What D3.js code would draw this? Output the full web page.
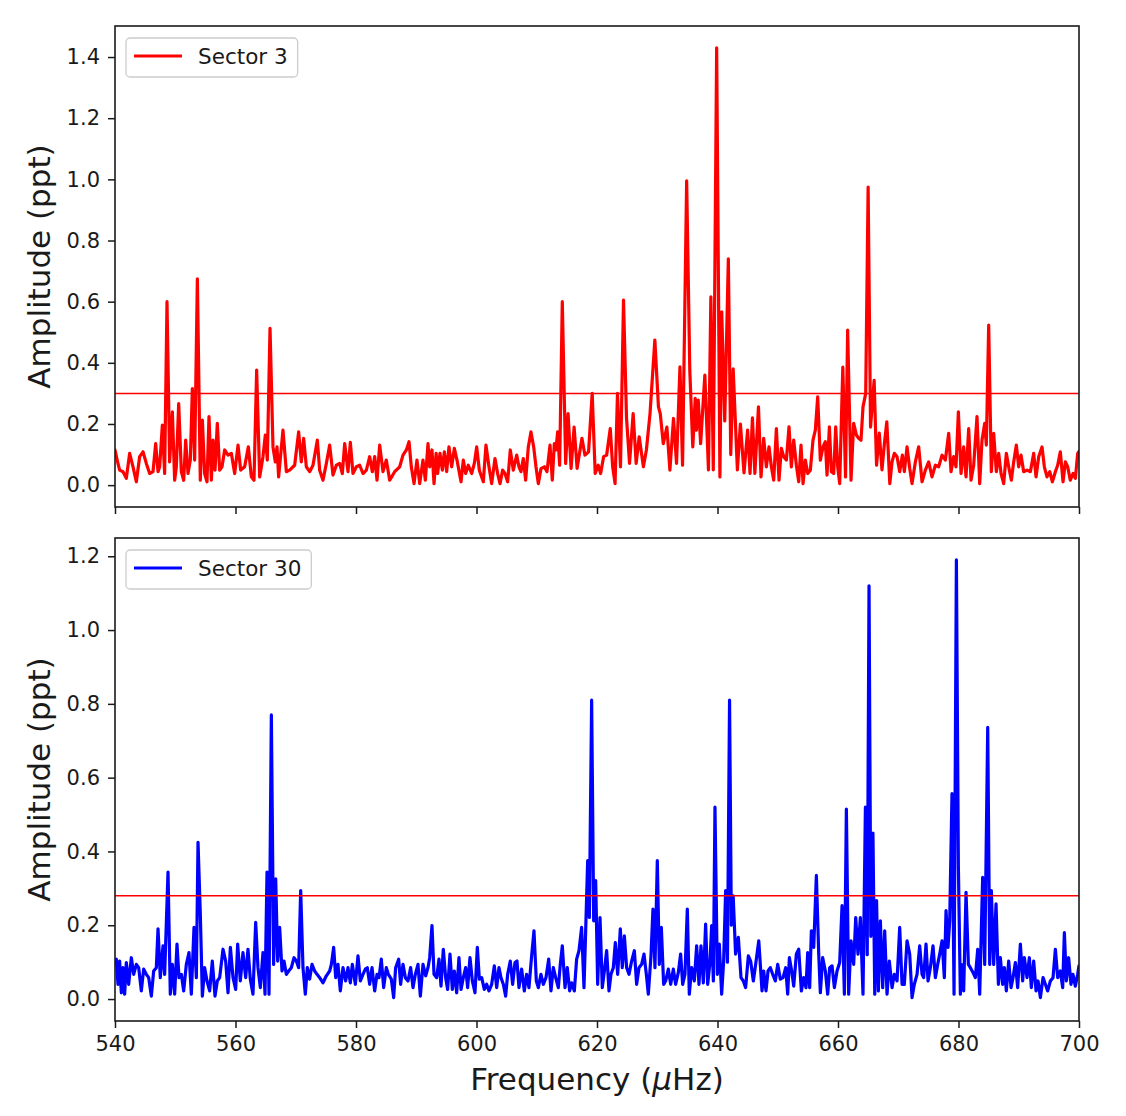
<!DOCTYPE html>
<html>
<head>
<meta charset="utf-8">
<script src="https://cdn.jsdelivr.net/npm/d3@7"></script>
<style>
  html, body { margin: 0; padding: 0; background: #fff; }
  text { font-family: "DejaVu Sans", sans-serif; }
</style>
</head>
<body>
<svg id="chart" width="1126" height="1116"></svg>
<script>
// ---------------- DATA ----------------
const xTicks = [540, 560, 580, 600, 620, 640, 660, 680, 700];
const yTicks3 = [0.0, 0.2, 0.4, 0.6, 0.8, 1.0, 1.2, 1.4];
const yTicks30 = [0.0, 0.2, 0.4, 0.6, 0.8, 1.0, 1.2];
const threshold3 = 0.30;
const threshold30 = 0.28;
const seriesNames = ["Sector 3", "Sector 30"];

// Sector 3 amplitude spectrum: [frequency (µHz), amplitude (ppt)]
const sector3 = [
[540.0,0.115],[540.5,0.07],[540.77,0.049],[541.33,0.044],[541.88,0.022],[542.43,0.104],[542.99,0.060],[543.54,0.011],
[544.09,0.093],[544.65,0.109],[545.2,0.071],[545.75,0.038],[546.31,0.044],[546.75,0.136],[547.14,0.044],[547.41,0.060],
[547.86,0.196],[548.24,0.038],[548.63,0.600],[549.07,0.076],[549.52,0.240],[549.9,0.016],[550.18,0.060],[550.57,0.267],
[551.01,0.044],[551.4,0.016],[551.73,0.147],[552.12,0.038],[552.5,0.082],[552.84,0.316],[553.22,0.082],[553.67,0.675],
[554.16,0.016],[554.5,0.213],[554.88,0.038],[555.27,0.011],[555.6,0.224],[555.99,0.016],[556.27,0.147],[556.6,0.049],
[556.98,0.202],[557.37,0.049],[557.76,0.060],[558.2,0.115],[558.76,0.098],[559.31,0.104],[559.86,0.038],[560.42,0.131],
[560.86,0.049],[561.52,0.060],[562.13,0.125],[562.63,0.027],[563.07,0.016],[563.51,0.376],[564.01,0.027],[564.56,0.093],
[564.95,0.164],[565.28,0.082],[565.73,0.513],[566.22,0.125],[566.61,0.076],[566.89,0.125],[567.16,0.027],[567.88,0.180],
[568.44,0.044],[568.99,0.049],[569.82,0.065],[570.48,0.174],[570.92,0.076],[571.31,0.153],[571.76,0.060],[572.31,0.044],
[572.86,0.065],[573.58,0.147],[573.97,0.049],[574.52,0.016],[575.08,0.071],[575.63,0.131],[576.18,0.033],[576.74,0.065],
[577.29,0.071],[577.73,0.038],[578.12,0.136],[578.67,0.044],[579.06,0.140],[579.5,0.038],[580.06,0.060],[580.61,0.065],
[581.16,0.038],[581.72,0.049],[582.27,0.093],[582.71,0.044],[583.1,0.093],[583.49,0.016],[583.93,0.131],[584.48,0.044],
[585.03,0.082],[585.59,0.016],[586.42,0.044],[587.25,0.060],[587.8,0.098],[588.36,0.115],[588.8,0.142],[589.18,0.060],
[589.63,0.005],[590.12,0.082],[590.57,0.005],[591.12,0.082],[591.51,0.016],[591.95,0.136],[592.23,0.060],[592.61,0.115],
[592.95,0.005],[593.3,0.104],[593.55,0.038],[593.94,0.104],[594.33,0.049],[594.66,0.109],[595.05,0.044],[595.43,0.125],
[595.88,0.060],[596.32,0.120],[596.76,0.082],[597.43,0.011],[597.81,0.082],[598.2,0.038],[598.64,0.065],[599.2,0.038],
[599.64,0.071],[600.03,0.125],[600.47,0.049],[601.13,0.011],[601.57,0.131],[602.07,0.060],[602.52,0.005],[603.07,0.087],
[603.51,0.038],[603.9,0.005],[604.34,0.049],[604.73,0.038],[605.17,0.011],[605.61,0.115],[606.11,0.049],[606.67,0.098],
[607.05,0.060],[607.38,0.044],[607.77,0.087],[608.16,0.016],[608.6,0.125],[609.04,0.174],[609.49,0.125],[609.87,0.060],
[610.26,0.005],[610.7,0.054],[611.26,0.060],[611.7,0.044],[612.2,0.131],[612.58,0.016],[612.92,0.136],[613.19,0.115],
[613.47,0.174],[613.8,0.065],[614.24,0.600],[614.8,0.071],[615.2,0.234],[615.7,0.055],[616.2,0.190],[616.7,0.055],
[617.5,0.153],[618.0,0.098],[618.6,0.109],[619.2,0.300],[619.7,0.038],[620.2,0.065],[620.6,0.038],[621.1,0.093],
[621.6,0.098],[622.2,0.185],[622.6,0.060],[623.0,0.005],[623.4,0.300],[623.9,0.060],[624.4,0.605],[624.9,0.220],
[625.4,0.071],[626.0,0.234],[626.5,0.071],[627.0,0.158],[627.7,0.060],[628.2,0.115],[628.8,0.234],[629.6,0.474],
[630.2,0.256],[630.5,0.234],[631.0,0.136],[631.6,0.190],[632.1,0.049],[632.7,0.218],[633.2,0.071],[633.77,0.387],
[634.2,0.065],[634.88,0.995],[635.4,0.376],[635.9,0.125],[636.3,0.284],[636.5,0.180],[636.8,0.278],[637.2,0.136],
[637.9,0.360],[638.5,0.050],[638.9,0.616],[639.3,0.050],[639.86,1.430],[640.4,0.027],[640.7,0.567],[641.2,0.210],
[641.8,0.740],[642.2,0.100],[642.6,0.380],[643.3,0.050],[643.8,0.200],[644.4,0.040],[645.0,0.180],[645.4,0.038],
[645.8,0.220],[646.2,0.038],[646.8,0.256],[647.22,0.027],[647.67,0.153],[648.11,0.060],[648.55,0.125],[648.94,0.060],
[649.33,0.016],[649.77,0.185],[650.21,0.016],[650.6,0.120],[650.99,0.093],[651.43,0.082],[651.87,0.191],[652.26,0.060],
[652.65,0.147],[653.09,0.065],[653.48,0.011],[653.86,0.131],[654.2,0.005],[654.58,0.082],[654.97,0.038],[655.41,0.049],
[655.85,0.147],[656.24,0.180],[656.63,0.289],[657.07,0.082],[657.51,0.125],[657.9,0.142],[658.18,0.033],[658.57,0.191],
[658.9,0.044],[659.29,0.038],[659.62,0.191],[659.95,0.060],[660.28,0.005],[660.8,0.386],[661.25,0.027],[661.6,0.507],
[662.16,0.016],[662.6,0.202],[663.05,0.164],[663.43,0.153],[663.82,0.147],[664.15,0.256],[664.6,0.300],[665.0,0.975],
[665.4,0.190],[666.0,0.343],[666.4,0.065],[666.85,0.170],[667.3,0.050],[667.7,0.136],[668.1,0.207],[668.6,0.005],
[668.97,0.076],[669.35,0.104],[669.8,0.093],[670.24,0.044],[670.68,0.098],[671.01,0.044],[671.46,0.125],[671.9,0.055],
[672.29,0.005],[672.84,0.076],[673.39,0.125],[673.95,0.011],[674.5,0.049],[675.05,0.076],[675.6,0.027],[676.16,0.065],
[676.71,0.060],[677.27,0.098],[677.82,0.082],[678.37,0.169],[678.76,0.044],[679.2,0.093],[679.59,0.060],[679.98,0.240],
[680.42,0.038],[680.86,0.125],[681.25,0.027],[681.69,0.185],[682.08,0.016],[682.52,0.065],[683.07,0.224],[683.52,0.005],
[683.9,0.147],[684.35,0.202],[684.62,0.131],[685.01,0.523],[685.45,0.044],[685.84,0.169],[686.28,0.044],[686.67,0.104],
[687.06,0.038],[687.5,0.005],[687.94,0.104],[688.33,0.060],[688.77,0.016],[689.16,0.076],[689.6,0.131],[689.99,0.060],
[690.38,0.098],[690.82,0.044],[691.37,0.049],[691.93,0.044],[692.48,0.104],[692.87,0.027],[693.31,0.093],[693.86,0.125],
[694.25,0.060],[694.69,0.027],[695.14,0.044],[695.58,0.011],[696.08,0.044],[696.46,0.065],[696.9,0.109],[697.35,0.011],
[697.74,0.076],[698.12,0.060],[698.56,0.016],[699.01,0.038],[699.4,0.022],[699.78,0.104],[700.0,0.110]
];

// Sector 30 amplitude spectrum: [frequency (µHz), amplitude (ppt)]
const sector30 = [
[540.0,0.100],[540.22,0.108],[540.5,0.040],[540.77,0.103],[541.05,0.017],[541.33,0.085],[541.6,0.013],[541.88,0.099],
[542.27,0.040],[542.71,0.112],[543.1,0.067],[543.54,0.094],[543.93,0.085],[544.37,0.022],[544.76,0.081],[545.2,0.067],
[545.59,0.058],[546.03,0.008],[546.42,0.076],[546.86,0.085],[547.14,0.190],[547.52,0.058],[547.97,0.144],[548.24,0.067],
[548.8,0.344],[549.18,0.013],[549.52,0.094],[549.9,0.013],[550.29,0.149],[550.62,0.058],[551.01,0.067],[551.4,0.022],
[551.84,0.094],[552.28,0.126],[552.67,0.013],[553.11,0.194],[553.5,0.058],[553.78,0.425],[554.16,0.230],[554.5,0.008],
[554.88,0.085],[555.27,0.049],[555.71,0.022],[556.15,0.103],[556.6,0.008],[556.98,0.049],[557.37,0.058],[557.93,0.135],
[558.37,0.103],[558.76,0.017],[559.15,0.140],[559.59,0.058],[560.03,0.026],[560.36,0.149],[560.8,0.049],[561.24,0.126],
[561.69,0.058],[562.07,0.135],[562.46,0.054],[562.9,0.013],[563.35,0.208],[563.73,0.085],[564.12,0.031],[564.56,0.126],
[564.9,0.013],[565.23,0.344],[565.56,0.013],[565.95,0.770],[566.33,0.094],[566.67,0.326],[567.0,0.103],[567.33,0.194],
[567.72,0.076],[568.05,0.103],[568.44,0.067],[568.82,0.076],[569.27,0.085],[569.71,0.112],[570.1,0.103],[570.48,0.085],
[570.82,0.294],[571.2,0.085],[571.59,0.013],[571.92,0.085],[572.31,0.054],[572.7,0.094],[573.14,0.076],[573.53,0.067],
[573.97,0.058],[574.52,0.044],[575.08,0.063],[575.63,0.076],[575.91,0.094],[576.29,0.140],[576.63,0.058],[577.01,0.094],
[577.4,0.022],[577.84,0.085],[578.28,0.049],[578.67,0.085],[579.06,0.044],[579.39,0.094],[579.89,0.040],[580.33,0.117],
[580.72,0.049],[581.16,0.067],[581.55,0.081],[581.88,0.085],[582.27,0.040],[582.66,0.085],[583.1,0.022],[583.49,0.067],
[583.82,0.058],[584.2,0.108],[584.59,0.031],[585.03,0.085],[585.37,0.067],[585.86,0.054],[586.25,0.004],[586.58,0.085],
[587.08,0.108],[587.41,0.040],[587.8,0.094],[588.19,0.058],[588.63,0.049],[589.07,0.085],[589.46,0.031],[589.85,0.067],
[590.29,0.094],[590.68,0.008],[591.12,0.094],[591.57,0.063],[591.95,0.085],[592.23,0.112],[592.61,0.199],[592.95,0.067],
[593.39,0.058],[593.77,0.108],[594.11,0.035],[594.49,0.135],[594.88,0.058],[595.21,0.026],[595.6,0.122],[595.99,0.026],
[596.32,0.076],[596.71,0.017],[597.09,0.112],[597.43,0.026],[597.81,0.058],[598.2,0.085],[598.53,0.031],[598.92,0.112],
[599.31,0.049],[599.75,0.017],[600.14,0.140],[600.47,0.054],[600.86,0.058],[601.3,0.026],[601.69,0.040],[602.07,0.022],
[602.52,0.040],[602.96,0.090],[603.35,0.031],[603.73,0.085],[604.06,0.058],[604.45,0.040],[604.84,0.008],[605.17,0.067],
[605.61,0.103],[606.0,0.040],[606.39,0.099],[606.72,0.103],[607.05,0.031],[607.49,0.081],[607.94,0.022],[608.32,0.067],
[608.71,0.031],[609.15,0.117],[609.54,0.185],[609.93,0.049],[610.26,0.031],[610.7,0.067],[611.09,0.040],[611.53,0.058],
[611.98,0.108],[612.36,0.022],[612.75,0.085],[613.14,0.058],[613.58,0.031],[613.91,0.094],[614.24,0.144],[614.69,0.031],
[615.07,0.085],[615.46,0.022],[615.79,0.044],[616.24,0.022],[616.62,0.108],[617.01,0.131],[617.45,0.194],[617.84,0.031],
[618.12,0.185],[618.45,0.375],[618.73,0.221],[619.11,0.810],[619.45,0.212],[619.78,0.321],[620.11,0.040],[620.5,0.221],
[620.88,0.031],[621.22,0.076],[621.6,0.131],[621.99,0.022],[622.32,0.067],[622.71,0.085],[623.04,0.153],[623.43,0.067],
[623.87,0.190],[624.2,0.085],[624.54,0.171],[624.92,0.085],[625.31,0.067],[625.75,0.103],[626.2,0.131],[626.58,0.040],
[626.97,0.085],[627.41,0.094],[627.8,0.122],[628.19,0.067],[628.52,0.013],[628.96,0.117],[629.29,0.244],[629.62,0.085],
[630.01,0.375],[630.34,0.094],[630.68,0.194],[631.06,0.040],[631.4,0.049],[631.84,0.081],[632.23,0.040],[632.67,0.081],
[633.05,0.040],[633.5,0.072],[633.88,0.122],[634.22,0.040],[634.6,0.067],[634.99,0.244],[635.32,0.013],[635.71,0.085],
[636.15,0.049],[636.54,0.144],[636.93,0.040],[637.26,0.144],[637.65,0.044],[638.03,0.203],[638.37,0.040],[638.75,0.099],
[639.03,0.199],[639.31,0.049],[639.58,0.520],[639.97,0.067],[640.3,0.149],[640.69,0.013],[641.02,0.103],[641.35,0.294],
[641.65,0.100],[642.0,0.810],[642.3,0.200],[642.6,0.280],[643.0,0.122],[643.46,0.167],[643.9,0.058],[644.29,0.049],
[644.67,0.031],[645.12,0.117],[645.5,0.103],[645.95,0.049],[646.33,0.094],[646.85,0.158],[647.39,0.022],[647.67,0.076],
[648.05,0.022],[648.39,0.076],[648.77,0.085],[649.16,0.067],[649.6,0.049],[649.99,0.094],[650.43,0.054],[650.88,0.058],
[651.32,0.085],[651.65,0.013],[651.93,0.112],[652.31,0.076],[652.65,0.035],[653.09,0.122],[653.48,0.135],[653.92,0.022],
[654.31,0.058],[654.69,0.031],[654.97,0.126],[655.3,0.031],[655.58,0.185],[655.97,0.140],[656.41,0.335],[656.8,0.122],
[657.07,0.017],[657.46,0.112],[657.9,0.076],[658.29,0.013],[658.62,0.085],[659.01,0.090],[659.4,0.031],[659.84,0.076],
[660.28,0.099],[660.67,0.253],[661.06,0.013],[661.39,0.515],[661.77,0.013],[662.16,0.158],[662.6,0.094],[662.94,0.221],
[663.32,0.122],[663.71,0.221],[664.15,0.013],[664.55,0.520],[664.85,0.120],[665.15,1.120],[665.45,0.170],[665.8,0.450],
[666.1,0.013],[666.4,0.267],[666.7,0.022],[667.03,0.212],[667.42,0.031],[667.75,0.185],[668.14,0.013],[668.52,0.103],
[668.97,0.031],[669.35,0.067],[669.8,0.049],[670.24,0.194],[670.63,0.040],[671.01,0.040],[671.46,0.158],[671.9,0.122],
[672.29,0.004],[672.67,0.040],[673.12,0.067],[673.56,0.144],[673.95,0.067],[674.22,0.058],[674.61,0.149],[674.94,0.049],
[675.33,0.085],[675.77,0.144],[676.16,0.058],[676.55,0.094],[676.88,0.122],[677.27,0.158],[677.65,0.058],[677.93,0.240],
[678.26,0.140],[678.54,0.212],[678.92,0.557],[679.26,0.013],[679.65,1.190],[679.98,0.357],[680.31,0.013],[680.47,0.094],
[680.86,0.022],[681.25,0.289],[681.64,0.094],[681.97,0.085],[682.41,0.072],[682.8,0.058],[683.19,0.135],[683.52,0.013],
[684.01,0.330],[684.35,0.094],[684.85,0.736],[685.18,0.094],[685.45,0.294],[685.84,0.094],[686.23,0.258],[686.62,0.040],
[686.95,0.112],[687.33,0.040],[687.61,0.085],[687.94,0.022],[688.33,0.103],[688.72,0.031],[689.05,0.058],[689.44,0.099],
[689.82,0.031],[690.27,0.149],[690.65,0.049],[690.93,0.112],[691.37,0.058],[691.76,0.112],[692.09,0.031],[692.48,0.103],
[692.87,0.022],[693.2,0.049],[693.59,0.004],[694.03,0.058],[694.42,0.040],[694.8,0.022],[695.25,0.049],[695.69,0.058],
[696.08,0.135],[696.46,0.058],[696.9,0.076],[697.29,0.031],[697.57,0.180],[697.9,0.049],[698.28,0.112],[698.67,0.040],
[699.0,0.067],[699.39,0.035],[699.78,0.067],[700.0,0.090]
];

// ---------------- DRAWING ----------------
const svg = d3.select("#chart");
svg.append("rect").attr("width", 1126).attr("height", 1116).attr("fill", "#fff");

const x = d3.scaleLinear().domain([540, 700]).range([115, 1079]);

const panels = [
  { data: sector3, name: seriesNames[0], color: "#ff0000", top: 26, bottom: 507,
    yDomain: [-0.0715, 1.5015], yTicks: yTicks3, thr: threshold3, xLabels: false, id: "p0" },
  { data: sector30, name: seriesNames[1], color: "#0000ff", top: 538, bottom: 1021,
    yDomain: [-0.0595, 1.2495], yTicks: yTicks30, thr: threshold30, xLabels: true, id: "p1" }
];

const fontTick = 21;

panels.forEach(p => {
  const y = d3.scaleLinear().domain(p.yDomain).range([p.bottom, p.top]);
  const g = svg.append("g");

  g.append("clipPath").attr("id", "clip-" + p.id)
    .append("rect").attr("x", 115).attr("y", p.top).attr("width", 1079 - 115).attr("height", p.bottom - p.top);

  // data line
  const line = d3.line().x(d => x(d[0])).y(d => y(d[1]));
  g.append("path").datum(p.data)
    .attr("clip-path", "url(#clip-" + p.id + ")")
    .attr("d", line)
    .attr("fill", "none").attr("stroke", p.color)
    .attr("stroke-width", 3.2).attr("stroke-linejoin", "round").attr("stroke-linecap", "round");

  // threshold line
  g.append("line")
    .attr("x1", x(540)).attr("x2", x(700))
    .attr("y1", y(p.thr)).attr("y2", y(p.thr))
    .attr("stroke", "#ff0000").attr("stroke-width", 1.5);

  // axes
  const yAxis = d3.axisLeft(y).tickValues(p.yTicks).tickFormat(d3.format(".1f")).tickSize(7).tickPadding(8);
  const ya = g.append("g").attr("transform", "translate(115,0)").call(yAxis);
  const xAxis = d3.axisBottom(x).tickValues(xTicks).tickSize(7).tickPadding(8)
    .tickFormat(p.xLabels ? d3.format("d") : () => "");
  const xa = g.append("g").attr("transform", `translate(0,${p.bottom})`).call(xAxis);
  [ya, xa].forEach(a => {
    a.select(".domain").remove();
    a.selectAll(".tick line").attr("stroke", "#1a1a1a").attr("stroke-width", 1.5);
    a.selectAll(".tick text").attr("font-size", fontTick).attr("fill", "#1a1a1a")
      .attr("font-family", "DejaVu Sans");
  });

  // frame
  g.append("rect").attr("x", 115).attr("y", p.top)
    .attr("width", 1079 - 115).attr("height", p.bottom - p.top)
    .attr("fill", "none").attr("stroke", "#1a1a1a").attr("stroke-width", 1.6);

  // y label
  g.append("text")
    .attr("transform", `translate(50,${(p.top + p.bottom) / 2}) rotate(-90)`)
    .attr("text-anchor", "middle").attr("font-size", 31).attr("fill", "#1a1a1a")
    .text("Amplitude (ppt)");

  // legend
  const lg = g.append("g").attr("transform", `translate(126,${p.top + 12})`);
  const box = lg.append("rect").attr("x", 0).attr("y", 0).attr("height", 39).attr("rx", 4)
    .attr("fill", "#fff").attr("fill-opacity", 0.8).attr("stroke", "#cccccc").attr("stroke-width", 1.3);
  lg.append("line").attr("x1", 8).attr("x2", 56).attr("y1", 18).attr("y2", 18)
    .attr("stroke", p.color).attr("stroke-width", 3);
  const lt = lg.append("text").attr("x", 72).attr("y", 26).attr("font-size", 21.5)
    .attr("fill", "#1a1a1a").text(p.name);
  const tw = lt.node().getComputedTextLength();
  box.attr("width", 72 + tw + 10);
});

// x label
const xl = svg.append("text").attr("x", 597).attr("y", 1090).attr("text-anchor", "middle")
  .attr("font-size", 31).attr("fill", "#1a1a1a");
xl.append("tspan").text("Frequency (");
xl.append("tspan").attr("font-style", "italic").text("\u03BC");
xl.append("tspan").text("Hz)");
</script>
</body>
</html>
